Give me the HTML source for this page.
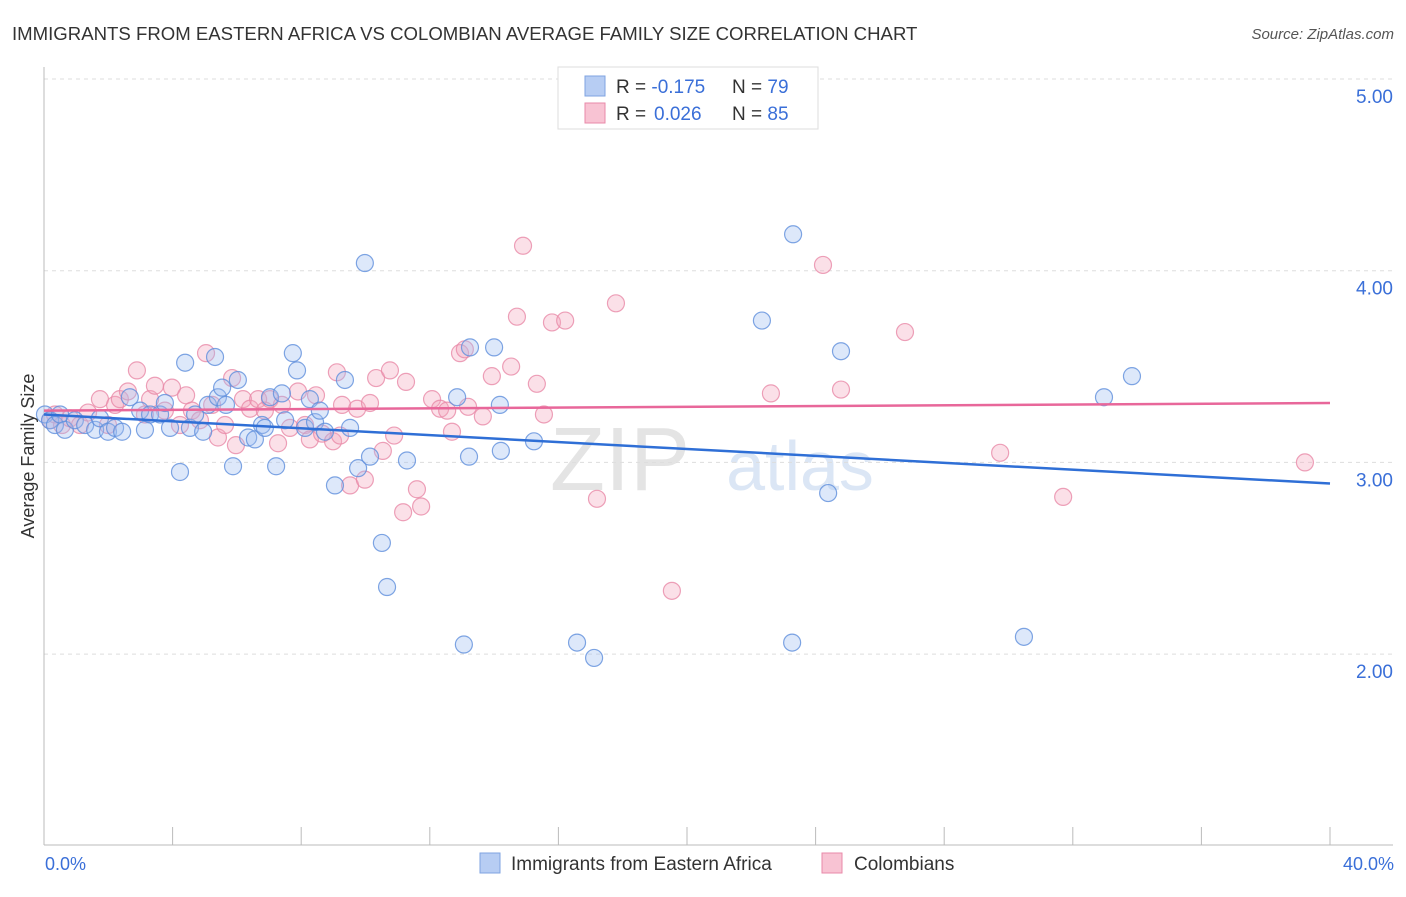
<!DOCTYPE html>
<html><head><meta charset="utf-8">
<style>
body{margin:0;background:#fff;font-family:"Liberation Sans",sans-serif;}
svg text{font-family:"Liberation Sans",sans-serif;}
</style></head>
<body>
<svg id="chart" width="1406" height="892" xmlns="http://www.w3.org/2000/svg">
<text x="12" y="40" font-size="18.6" fill="#333">IMMIGRANTS FROM EASTERN AFRICA VS COLOMBIAN AVERAGE FAMILY SIZE CORRELATION CHART</text>
<text x="1394" y="39" font-size="15" fill="#555" font-style="italic" text-anchor="end">Source: ZipAtlas.com</text>
<text x="620" y="490" font-size="90" fill="#e4e4e4" font-family="Liberation Serif" text-anchor="middle">ZIP</text>
<text x="800" y="490" font-size="70" fill="#dbe6f5" text-anchor="middle">atlas</text>
<g id="grid"></g>
<g id="axes"></g>
<g id="pts"></g>
<g id="trend"></g>
<text transform="translate(34,456) rotate(-90)" font-size="18" fill="#333" text-anchor="middle">Average Family Size</text>
<text x="45" y="870" font-size="18" fill="#3a6fd8">0.0%</text>
<text x="1394" y="870" font-size="18" fill="#3a6fd8" text-anchor="end">40.0%</text>
<g>
<rect x="558" y="67" width="260" height="62" fill="#fff" stroke="#ddd"/>
<rect x="585" y="76" width="20" height="20" fill="#b7cdf3" stroke="#7fa3e0"/>
<rect x="585" y="103" width="20" height="20" fill="#f8c3d3" stroke="#e88aa8"/>
<text x="616" y="93" font-size="19" fill="#333">R = <tspan fill="#3a6fd8">-0.175</tspan><tspan x="732">N = </tspan><tspan fill="#3a6fd8">79</tspan></text>
<text x="616" y="120" font-size="19" fill="#333">R = <tspan fill="#3a6fd8" x="654">0.026</tspan><tspan x="732">N = </tspan><tspan fill="#3a6fd8">85</tspan></text>
</g>
<g>
<rect x="480" y="853" width="20" height="20" fill="#b7cdf3" stroke="#7fa3e0"/>
<text x="511" y="870" font-size="19" fill="#333">Immigrants from Eastern Africa</text>
<rect x="822" y="853" width="20" height="20" fill="#f8c3d3" stroke="#e88aa8"/>
<text x="854" y="870" font-size="19" fill="#333">Colombians</text>
</g>
</svg>
<script>
const blueX=[0.03,0.19,0.34,0.50,0.65,0.96,1.28,1.59,1.74,1.99,2.21,2.43,2.67,2.99,3.14,3.30,3.61,3.76,3.92,4.23,4.39,4.54,4.70,4.95,5.10,5.32,5.41,5.54,5.66,5.88,6.03,6.35,6.56,6.78,6.87,7.03,7.22,7.40,7.50,7.74,7.87,8.12,8.27,8.43,8.58,8.74,9.05,9.36,9.52,9.77,9.98,10.14,10.51,10.67,11.29,12.85,13.06,13.22,13.25,14.00,14.18,14.21,15.24,16.58,17.11,22.33,23.27,23.30,24.39,24.79,30.48,32.97,33.84];
const blueY=[3.25,3.22,3.195,3.25,3.17,3.22,3.195,3.17,3.23,3.16,3.18,3.16,3.34,3.27,3.17,3.25,3.25,3.31,3.18,2.95,3.52,3.18,3.25,3.16,3.30,3.55,3.34,3.39,3.30,2.98,3.43,3.13,3.12,3.195,3.18,3.34,2.98,3.36,3.22,3.57,3.48,3.18,3.33,3.21,3.27,3.16,2.88,3.43,3.18,2.97,4.04,3.03,2.58,2.35,3.01,3.34,2.05,3.03,3.60,3.60,3.30,3.06,3.11,2.06,1.98,3.74,2.06,4.19,2.84,3.58,2.09,3.34,3.45];
const pinkX=[0.19,0.34,0.56,0.81,1.12,1.37,1.74,1.99,2.21,2.36,2.61,2.89,3.14,3.30,3.45,3.76,3.98,4.23,4.42,4.60,4.85,5.04,5.23,5.41,5.63,5.85,5.97,6.19,6.41,6.66,6.87,7.03,7.28,7.40,7.65,7.90,8.12,8.27,8.46,8.65,8.99,9.11,9.21,9.27,9.52,9.74,9.98,10.14,10.33,10.54,10.76,10.89,11.17,11.26,11.60,11.73,12.07,12.32,12.54,12.69,12.94,13.09,13.19,13.65,13.93,14.53,14.71,14.90,15.33,15.55,15.80,16.21,17.20,17.79,19.53,22.61,24.23,24.79,26.78,29.74,31.70,39.22];
const pinkY=[3.22,3.25,3.195,3.23,3.195,3.26,3.33,3.195,3.30,3.33,3.37,3.48,3.25,3.33,3.40,3.27,3.39,3.195,3.35,3.27,3.22,3.57,3.30,3.13,3.195,3.44,3.09,3.33,3.28,3.33,3.27,3.33,3.10,3.30,3.18,3.37,3.195,3.12,3.35,3.15,3.11,3.47,3.14,3.30,2.88,3.28,2.91,3.31,3.44,3.06,3.48,3.14,2.74,3.42,2.86,2.77,3.33,3.28,3.27,3.16,3.57,3.59,3.29,3.24,3.45,3.50,3.76,4.13,3.41,3.25,3.73,3.74,2.81,3.83,2.33,3.36,4.03,3.38,3.68,3.05,2.82,3.00];
const yTicks=[5,4,3,2];
const yTickLabels=["5.00","4.00","3.00","2.00"];
const xTicks=[0,4,8,12,16,20,24,28,32,36,40];
const blueTrend=[3.25,2.89];
const pinkTrend=[3.27,3.31];

const NS="http://www.w3.org/2000/svg";
const sx=v=>44+v*32.15;
const sy=v=>79+(5-v)*191.7;
function mk(t,a,p){const e=document.createElementNS(NS,t);for(const k in a)e.setAttribute(k,a[k]);p.appendChild(e);return e;}
const grid=document.getElementById('grid'),axes=document.getElementById('axes'),pts=document.getElementById('pts'),trend=document.getElementById('trend');
yTicks.forEach((v,i)=>{
  const l=mk('line',{x1:44,x2:1393,y1:sy(v),y2:sy(v),stroke:'#ddd','stroke-dasharray':'4,4'},grid);
  
  
  const t=mk('text',{x:1393,y:sy(v)+24,'font-size':19,fill:'#3a6fd8','text-anchor':'end'},axes);
  t.textContent=yTickLabels[i];
  
  
});
const ya=mk('line',{x1:44,x2:44,y1:67,y2:845,stroke:'#bbb'},axes);


const xa=mk('line',{x1:44,x2:1393,y1:845,y2:845,stroke:'#bbb'},axes);


xTicks.forEach(v=>{
  const t=mk('line',{x1:sx(v),x2:sx(v),y1:827,y2:845,stroke:'#bbb'},axes);
  
  
});
function dots(X,Y,fill,stroke,name){
  X.forEach((x,i)=>{
    const c=mk('circle',{cx:sx(x),cy:sy(Y[i]),r:8.5,fill:fill,'fill-opacity':0.35,stroke:stroke,'stroke-opacity':0.8,'stroke-width':1.2},pts);
    
    
  });
}
dots(pinkX,pinkY,'#f4a6be','#e88aa8','point-colombians');
dots(blueX,blueY,'#9dbcf0','#5f8fdc','point-eastern-africa');
const bl=mk('line',{x1:sx(0),y1:sy(blueTrend[0]),x2:sx(40),y2:sy(blueTrend[1]),stroke:'#2f6fd6','stroke-width':2.5},trend);


const pl=mk('line',{x1:sx(0),y1:sy(pinkTrend[0]),x2:sx(40),y2:sy(pinkTrend[1]),stroke:'#e8679a','stroke-width':2.5},trend);


</script>
</body></html>
